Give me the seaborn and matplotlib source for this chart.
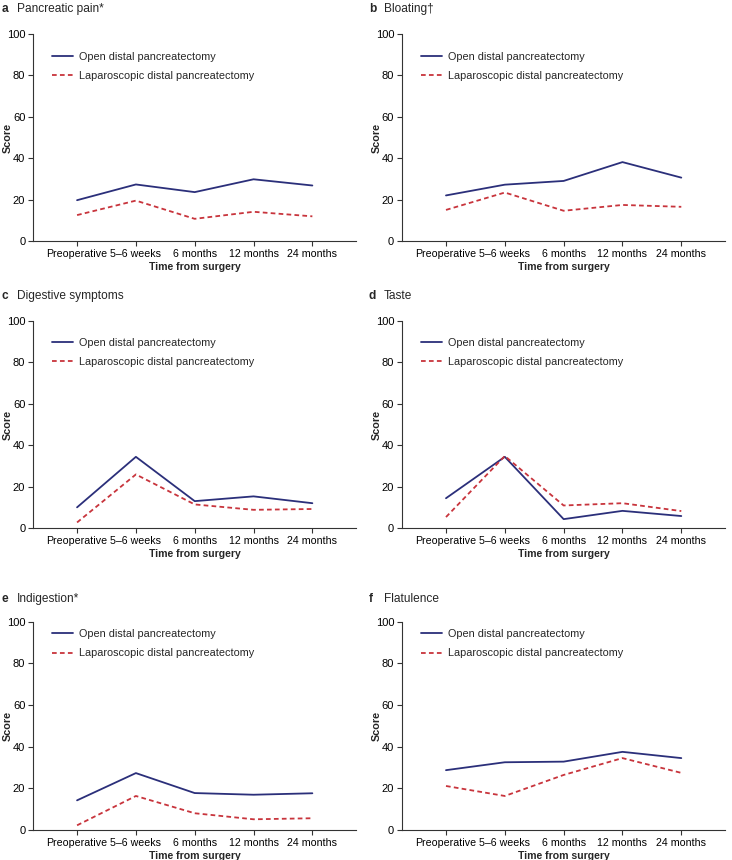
import numpy as np
import matplotlib.pyplot as plt
import seaborn as sns
import pandas as pd

times = ["Preoperative", "5\u20136 weeks", "6 months", "12 months", "24 months"]
groups = ["Open distal pancreatectomy", "Laparoscopic distal pancreatectomy"]

letters = ["a", "b", "c", "d", "e", "f"]
titles = ["Pancreatic pain*", "Bloating\u2020", "Digestive symptoms", "Taste",
          "Indigestion*", "Flatulence"]

open_pain = [19.7, 27.3, 23.6, 29.8, 26.8]
lap_pain = [12.5, 19.5, 10.7, 14.1, 11.9]
open_bloat = [22.0, 27.2, 29.0, 38.1, 30.6]
lap_bloat = [15.0, 23.4, 14.6, 17.4, 16.5]
open_digest = [10.0, 34.4, 13.0, 15.3, 12.0]
lap_digest = [2.7, 25.9, 11.4, 8.8, 9.2]
open_taste = [14.4, 34.4, 4.3, 8.3, 5.8]
lap_taste = [5.3, 34.8, 10.9, 12.0, 8.2]
open_indig = [14.2, 27.3, 17.7, 16.9, 17.6]
lap_indig = [2.2, 16.3, 8.0, 5.1, 5.6]
open_flat = [28.7, 32.5, 32.8, 37.5, 34.5]
lap_flat = [21.1, 16.3, 26.4, 34.5, 27.4]

panels = [(open_pain, lap_pain), (open_bloat, lap_bloat), (open_digest, lap_digest),
          (open_taste, lap_taste), (open_indig, lap_indig), (open_flat, lap_flat)]

sns.set_style("ticks")
plt.rcParams['font.family'] = ['Liberation Sans', 'DejaVu Sans']
axis_col = "#333333"

fig = plt.figure(figsize=(7.32, 8.6), dpi=100)

lefts = [0.045, 0.549]
bottoms = [0.7198, 0.386, 0.035]
heights = [0.2407, 0.2407, 0.242]
title_y = [9, 296, 599]
legend_y = [0.935, 0.94, 0.985]

palette = {groups[0]: "#2b2f7a", groups[1]: "#c8343c"}
dashes = {groups[0]: "", groups[1]: (2.6, 1.8)}

for i, (o, l) in enumerate(panels):
    row, col = divmod(i, 2)
    ax = fig.add_axes([lefts[col], bottoms[row], 0.442, heights[row]])
    df = pd.DataFrame({
        "Time": times * 2,
        "Score": o + l,
        "Group": [groups[0]] * 5 + [groups[1]] * 5,
    })
    sns.lineplot(data=df, x="Time", y="Score", hue="Group", style="Group",
                 palette=palette, dashes=dashes, linewidth=1.3, ax=ax,
                 sort=False)
    ax.set_xlim(-0.75, 4.75)
    ax.set_ylim(0, 100)
    ax.set_yticks([0, 20, 40, 60, 80, 100])
    sns.despine(ax=ax)
    for s in ["left", "bottom"]:
        ax.spines[s].set_color(axis_col)
        ax.spines[s].set_linewidth(0.8)
    ax.tick_params(axis="y", labelsize=8)
    ax.tick_params(axis="x", labelsize=7.7)
    ax.tick_params(axis="both", colors=axis_col, labelcolor="black",
                   length=3.5, width=0.8, pad=2)
    ax.set_xlabel("Time from surgery", fontsize=7.6, fontweight="bold", labelpad=2.5)
    ax.set_ylabel("Score", fontsize=7.8, fontweight="bold")
    ax.yaxis.set_label_coords(-0.062, 0.5)
    ax.legend(loc="upper left", bbox_to_anchor=(0.047, legend_y[row]), frameon=False,
              fontsize=7.8, handlelength=1.9, handletextpad=0.55, labelspacing=0.85,
              borderaxespad=0)
    fx = 2 / 732 + col * 367 / 732
    fy = 1 - title_y[row] / 860
    fig.text(fx, fy, letters[i], fontsize=8.6, fontweight="bold", va="center", ha="left")
    fig.text(fx + 15 / 732, fy, titles[i], fontsize=8.6, va="center", ha="left")

fig.savefig("out.png", dpi=100)
